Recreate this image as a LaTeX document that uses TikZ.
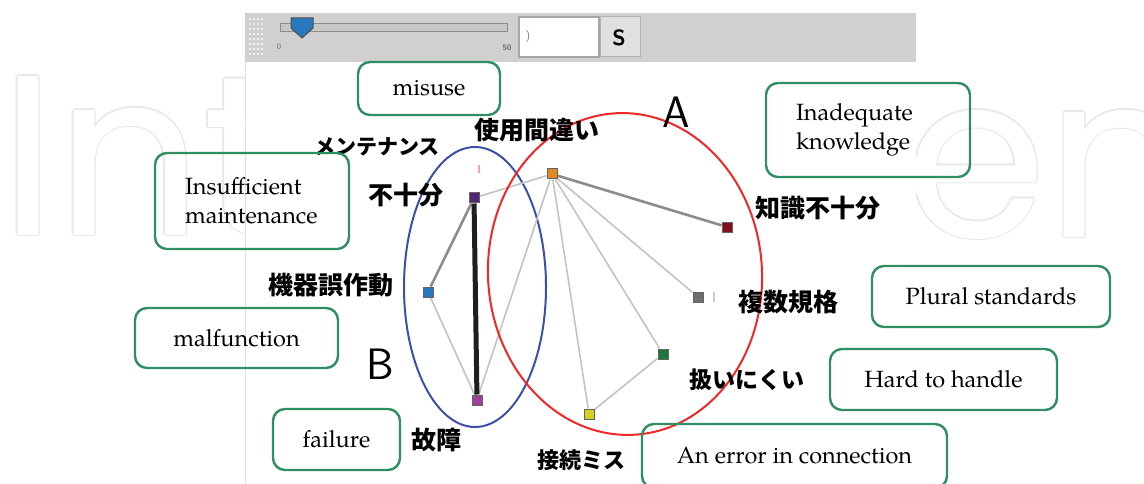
\documentclass[tikz,border=0pt]{standalone}
\usepackage{fontspec}
\setmainfont{texgyrepagella}[Extension=.otf,UprightFont=*-regular,BoldFont=*-bold,ItalicFont=*-italic,BoldItalicFont=*-bolditalic]
\newfontfamily\jp{Noto Sans CJK JP}
\newfontfamily\wmfont{Poppins}
\definecolor{gboxc}{RGB}{47,142,98}
\definecolor{wmc}{RGB}{232,232,232}
\definecolor{barc}{RGB}{208,208,208}
\definecolor{blueell}{RGB}{60,80,168}
\definecolor{redell}{RGB}{240,40,40}
\definecolor{lightedge}{RGB}{195,195,195}
\definecolor{midedge}{RGB}{140,140,140}
\definecolor{cOrange}{RGB}{224,138,32}
\definecolor{cPurple}{RGB}{80,40,120}
\definecolor{cBlue}{RGB}{40,120,190}
\definecolor{cMagenta}{RGB}{160,64,154}
\definecolor{cYellow}{RGB}{216,208,32}
\definecolor{cGreen}{RGB}{30,120,60}
\definecolor{cGray}{RGB}{110,110,110}
\definecolor{cDarkRed}{RGB}{130,16,30}
\tikzset{
  gbox/.style={draw=gboxc, line width=2.4pt, rounded corners=12pt, inner sep=0pt,
    font=\fontsize{23.5}{29}\selectfont, align=center},
  sq/.style={draw=cGray!90!black, line width=1pt, minimum size=10pt, inner sep=0pt},
  jlab/.style={font=\jp\bfseries\fontsize{25}{25}\selectfont, inner sep=0pt},
  ledge/.style={draw=lightedge, line width=1.6pt},
  medge/.style={draw=midedge, line width=2.6pt},
  hedge/.style={draw=black!88, line width=5pt},
  wm/.style={anchor=base west, inner sep=0pt, font=\wmfont\fontsize{228}{228}\selectfont},
}
\begin{document}
\begin{tikzpicture}[x=1pt,y=-1pt]
\useasboundingbox (0,0) rectangle (1144,484);
\fill[white] (0,0) rectangle (1144,484);
% watermark (outlined text)
\foreach \a [count=\k] in {0,45,...,315}{
  \node[wm, text=wmc] (wmIa\k) at ([shift={(\a:1.3pt)}]0,235) {Int};
  \node[wm, text=wmc] (wmEa\k) at ([shift={(\a:1.3pt)}]905,237) {en};
}
\node[wm, text=white] (wm1) at (0,235) {Int};
\node[wm, text=white] (wm2) at (905,237) {en};
% screenshot area
\fill[white] (245,62) rectangle (916,484);
\draw[black!12, line width=1pt] (245,62) -- (245,484);
% toolbar
\fill[barc] (245,13) rectangle (916,62);
\foreach \i in {0,1,2,3} \foreach \j in {0,...,7} \fill[white!70!barc] (249+4*\i,18+5*\j) rectangle +(2,2);
\fill[black!22] (280,24) rectangle (507,32);
\draw[black!45, line width=1pt] (280,24) rectangle (507,32);
\fill[cBlue, draw=black!70, line width=1pt] (291,18) -- (313,18) -- (313,28) -- (302,38) -- (291,28) -- cycle;
\node[font=\sffamily\fontsize{8}{8}\selectfont, text=black!55, inner sep=0pt] (lo) at (279,47) {0};
\node[font=\sffamily\bfseries\fontsize{8}{8}\selectfont, text=black!60, inner sep=0pt] (hi) at (507,48) {50};
\draw[black!35, fill=white, line width=1.5pt] (519,17) rectangle (599,57);
\node[font=\sffamily\fontsize{12}{12}\selectfont, text=black!50, inner sep=0pt] (inp) at (528,37) {)};
\draw[black!30, fill=black!12, line width=1pt] (600,17) rectangle (640,57);
\node[font=\sffamily\bfseries\fontsize{22}{22}\selectfont, inner sep=0pt] (btn) at (619,38) {S};
% ellipses
\draw[blueell, line width=2pt] (475,287) ellipse [x radius=71pt, y radius=140pt];
% graph nodes
\node[sq, fill=cOrange] (use) at (552,174) {};
\node[sq, fill=cPurple] (maint) at (474,198) {};
\node[sq, fill=cBlue] (mal) at (428,292) {};
\node[sq, fill=cMagenta] (fail) at (477,400) {};
\node[sq, fill=cYellow] (conn) at (589,414) {};
\node[sq, fill=cGreen] (hard) at (663,354) {};
\node[sq, fill=cGray] (plural) at (698,297) {};
\node[sq, fill=cDarkRed] (know) at (727,227) {};
% edges
\draw[ledge] (use) -- (maint);
\draw[ledge] (use) -- (fail);
\draw[ledge] (use) -- (conn);
\draw[ledge] (use) -- (hard);
\draw[ledge] (use) -- (plural);
\draw[ledge] (hard) -- (conn);
\draw[ledge] (mal) -- (fail);
\draw[medge] (use) -- (know);
\draw[medge] (maint) -- (mal);
\draw[hedge] (maint) -- (fail);
% redraw nodes on top
\node[sq, fill=cOrange] (useT) at (use) {};
\node[sq, fill=cPurple] (maintT) at (maint) {};
\node[sq, fill=cBlue] (malT) at (mal) {};
\node[sq, fill=cMagenta] (failT) at (fail) {};
\node[sq, fill=cYellow] (connT) at (conn) {};
\node[sq, fill=cGreen] (hardT) at (hard) {};
\node[sq, fill=cGray] (pluralT) at (plural) {};
\node[sq, fill=cDarkRed] (knowT) at (know) {};
\draw[magenta!40, line width=1.5pt] (479,165) -- (479,173);
\draw[black!20, line width=2pt] (714,292) -- (714,302);
% red ellipse
\draw[redell, line width=2pt, rotate around={3.5:(625,274)}] (625,274) ellipse [x radius=137pt, y radius=161pt];
% Japanese labels
\node[jlab, font=\jp\bfseries\fontsize{21}{21}\selectfont] (tMaint1) at (377,147) {メンテナンス};
\node[jlab] (tMaint2) at (406,195) {不十分};
\node[jlab] (tUse) at (537,130) {使用間違い};
\node[jlab] (tKnow) at (818,208) {知識不十分};
\node[jlab] (tMal) at (331,285) {機器誤作動};
\node[jlab] (tPlural) at (788,302) {複数規格};
\node[jlab, font=\jp\bfseries\fontsize{23}{23}\selectfont] (tHard) at (747,380) {扱いにくい};
\node[jlab] (tFail) at (436,440) {故障};
\node[jlab, font=\jp\bfseries\fontsize{22}{22}\selectfont] (tConn) at (581,460) {接続ミス};
\node[font=\sffamily\fontsize{44}{44}\selectfont, inner sep=0pt] (gA) at (676,112) {A};
\node[font=\sffamily\fontsize{44}{44}\selectfont, inner sep=0pt] (gB) at (380,364) {B};
% English boxes
\node[gbox, minimum width=142pt, minimum height=53pt] (bMisuse) at (429,88.5) {misuse};
\node[gbox, minimum width=194pt, minimum height=96pt, text width=134pt, align=left] (bMaint) at (252,201) {Insufficient\\maintenance};
\node[gbox, minimum width=204pt, minimum height=94pt, text width=144pt, align=left] (bKnow) at (868,130) {Inadequate\\knowledge};
\node[gbox, minimum width=238pt, minimum height=61pt] (bPlural) at (991,296.5) {Plural standards};
\node[gbox, minimum width=203pt, minimum height=60pt] (bMal) at (236.5,338) {malfunction};
\node[gbox, minimum width=227pt, minimum height=61pt] (bHard) at (943.5,379.5) {Hard to handle};
\node[gbox, minimum width=127pt, minimum height=61pt] (bFail) at (336.5,439.5) {failure};
\node[gbox, minimum width=305pt, minimum height=64pt] (bConn) at (794.5,456) {An error in connection};
\end{tikzpicture}
\end{document}
